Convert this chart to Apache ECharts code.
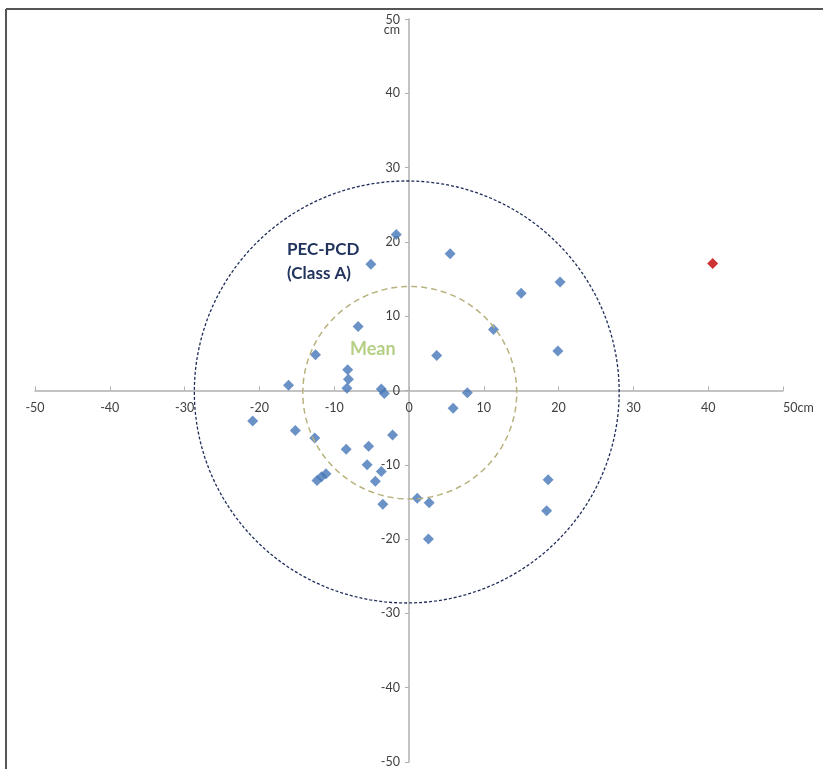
<!DOCTYPE html>
<html><head><meta charset="utf-8">
<script src="https://cdn.jsdelivr.net/npm/echarts@6/dist/echarts.min.js"></script>
<style>html,body{margin:0;padding:0;background:#fff}#c{width:823px;height:769px}</style>
</head><body><div id="c"></div>
<script>
// Data (cm)
const pointsX = [-1.7,-5.1,-6.8,-12.5,-16.1,-8.2,-8.1,-8.3,-3.7,-3.3,5.5,20.2,15.0,11.3,3.7,19.9,7.8,5.9,-20.9,-15.2,-12.6,-8.4,-5.4,-2.2,-5.6,-3.7,-4.5,-3.5,1.1,-11.1,-11.7,-12.3,2.7,2.6,18.6,18.4];
const pointsY = [21.0,17.0,8.6,4.8,0.7,2.8,1.5,0.3,0.2,-0.4,18.4,14.6,13.1,8.2,4.7,5.3,-0.3,-2.4,-4.1,-5.4,-6.4,-7.9,-7.5,-6.0,-10.0,-10.9,-12.2,-15.3,-14.5,-11.2,-11.6,-12.1,-15.1,-20.0,-12.0,-16.2];
const outlierX = [40.6];
const outlierY = [17.1];
const classACircle = {cx: -0.3, cy: -0.2, r: 28.4};
const meanCircle = {cx: 0.1, cy: -0.3, r: 14.3};
const axisTicks = [-50,-40,-30,-20,-10,0,10,20,30,40,50];

function circlePts(c){
  const out=[]; const n=180;
  for(let i=0;i<=n;i++){const a=2*Math.PI*i/n; out.push([c.cx+c.r*Math.cos(a), c.cy+c.r*Math.sin(a)]);}
  return out;
}
const W=823,H=769;
const G={left:35,right:40,top:19,bottom:7};
const gw=W-G.left-G.right, gh=H-G.top-G.bottom;
const chart = echarts.init(document.getElementById('c'));
const labelColor = '#404040';
const font = 'Lato, "Open Sans", sans-serif';
const axisGray = '#b0b0b0';
chart.setOption({
  animation:false,
  backgroundColor:'#fff',
  grid:{left:G.left,right:G.right,top:G.top,bottom:G.bottom,outerBoundsMode:'none',containLabel:false},
  xAxis:{type:'value',min:axisTicks[0],max:axisTicks[axisTicks.length-1],interval:10,
    position:'bottom',offset:-gh/2,
    axisLine:{onZero:false,lineStyle:{color:axisGray,width:1.5}},
    axisTick:{show:true,inside:true,length:4,lineStyle:{color:axisGray}},
    splitLine:{show:false},
    axisLabel:{color:labelColor,fontSize:12.5,fontFamily:font,margin:11,alignMaxLabel:'left',
      formatter:v=>v===50?'50cm':String(v)}},
  yAxis:{type:'value',min:axisTicks[0],max:axisTicks[axisTicks.length-1],interval:10,
    position:'left',offset:-gw/2,
    axisLine:{onZero:false,lineStyle:{color:axisGray,width:1.5}},
    axisTick:{show:true,length:4,lineStyle:{color:axisGray}},
    splitLine:{show:false},
    axisLabel:{color:labelColor,fontSize:12.5,fontFamily:font,margin:9,
      formatter:v=>v===50?'{t|50}\n{t|cm}':String(v),
      rich:{t:{fontSize:12.5,lineHeight:10,fontFamily:font,color:labelColor,padding:[6,0,-6,0]}}}},
  series:[
    {type:'line',data:circlePts(classACircle),showSymbol:false,symbol:'none',silent:true,
      lineStyle:{color:'#1f2d5a',width:1.3,type:[3,2]}},
    {type:'line',data:circlePts(meanCircle),showSymbol:false,symbol:'none',silent:true,
      lineStyle:{color:'#b7b27c',width:1.5,type:[6,4]}},
    {type:'scatter',symbol:'diamond',symbolSize:11,
      itemStyle:{color:'#4677b8'},
      data:pointsX.map((x,i)=>[x,pointsY[i]])},
    {type:'scatter',symbol:'diamond',symbolSize:11,
      itemStyle:{color:'#c00000'},
      data:outlierX.map((x,i)=>[x,outlierY[i]])}
  ],
  graphic:[
    {type:'line',shape:{x1:6,y1:9,x2:823,y2:9},style:{stroke:'#555',lineWidth:2}},
    {type:'line',shape:{x1:6,y1:9,x2:6,y2:769},style:{stroke:'#555',lineWidth:2}},
    {type:'text',left:287,top:241,style:{text:'PEC-PCD',fill:'#22345e',font:'bold 17px '+font}},
    {type:'text',left:287,top:265,style:{text:'(Class A)',fill:'#22345e',font:'bold 17px '+font}},
    {type:'text',left:350,top:340,style:{text:'Mean',fill:'#b5cf85',font:'bold 18px '+font}}
  ]
});
</script></body></html>
